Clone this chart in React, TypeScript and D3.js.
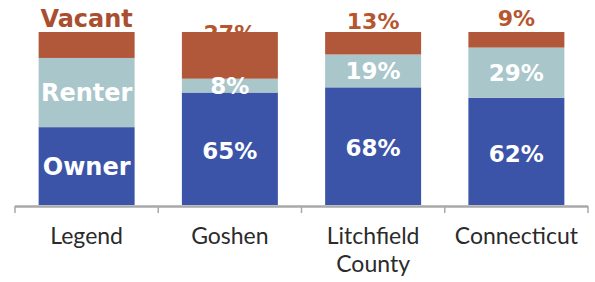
import React from "react";
import * as d3 from "d3";

const categories = ["Legend", "Goshen", "Litchfield County", "Connecticut"];
const categoryLines = [["Legend"], ["Goshen"], ["Litchfield", "County"], ["Connecticut"]];
const ownerValues = [45, 65, 68, 62];
const renterValues = [40, 8, 19, 29];
const vacantValues = [15, 27, 13, 9];
const seriesNames = ["Owner", "Renter", "Vacant"];

const W = 595;
const H = 282;
const colors = { Owner: "#3b54a8", Renter: "#a9c6cb", Vacant: "#b1573a" };

export default function App() {
  const x = d3.scaleBand().domain(categories).range([15, 588]).paddingInner(0.33).paddingOuter(0.165);
  const y = d3.scaleLinear().domain([0, 100]).range([205, 32]);
  const rows = categories.map((c, i) => ({
    cat: c,
    Owner: ownerValues[i],
    Renter: renterValues[i],
    Vacant: vacantValues[i],
  }));
  const stack = d3.stack<any>().keys(seriesNames)(rows);
  const bw = x.bandwidth();
  const valueFont = "'DejaVu Sans', sans-serif";
  const tickXs = d3.range(categories.length + 1).map((i) => 15 + i * (573 / categories.length));

  return (
    <svg width={W} height={H} style={{ position: "absolute", left: 0, top: 0, background: "#fff" }}>
      {/* vacant labels drawn below bars */}
      {rows.map((r, i) => {
        if (i === 0) return null;
        const s = stack[2][i];
        const cy = (y(s[0]) + y(s[1])) / 2 - 22;
        return (
          <text key={"vl" + i} x={x(r.cat)! + bw / 2} y={cy} dy="0.36em" textAnchor="middle"
            fontFamily={valueFont} fontWeight="bold" fontSize={22} fill="#b5562f">
            {r.Vacant}%
          </text>
        );
      })}
      <text x={x(categories[0])! + bw / 2} y={27} textAnchor="middle" fontFamily={valueFont}
        fontWeight="bold" fontSize={24} fill="#a94f2f">Vacant</text>
      {stack.map((layer) =>
        layer.map((d, i) => (
          <rect key={layer.key + i} x={x(categories[i])} y={y(d[1])} width={bw}
            height={y(d[0]) - y(d[1])} fill={(colors as any)[layer.key]} />
        ))
      )}
      {stack.slice(0, 2).map((layer) =>
        layer.map((d, i) => {
          const cy = (y(d[0]) + y(d[1])) / 2 + (layer.key === "Owner" && i > 0 ? 2 : 0);
          const label = i === 0 ? layer.key : `${(rows[i] as any)[layer.key]}%`;
          return (
            <text key={"t" + layer.key + i} x={x(categories[i])! + bw / 2} y={cy} dy="0.36em"
              textAnchor="middle" fontFamily={valueFont} fontWeight="bold"
              fontSize={i === 0 ? 24 : 23} fill="#ffffff">
              {label}
            </text>
          );
        })
      )}
      <line x1={15} x2={588} y1={206.5} y2={206.5} stroke="#a9a9a9" strokeWidth={2.5} />
      {tickXs.map((tx, i) => (
        <line key={"tk" + i} x1={tx} x2={tx} y1={206} y2={213} stroke="#a9a9a9" strokeWidth={1.5} />
      ))}
      {categoryLines.map((lines, i) => (
        <text key={"c" + i} x={x(categories[i])! + bw / 2} y={244} textAnchor="middle"
          fontFamily="Lato, sans-serif" fontSize={23} fill="#2b2b2b">
          {lines.map((l, j) => (
            <tspan key={j} x={x(categories[i])! + bw / 2} dy={j === 0 ? 0 : 28}>{l}</tspan>
          ))}
        </text>
      ))}
    </svg>
  );
}
